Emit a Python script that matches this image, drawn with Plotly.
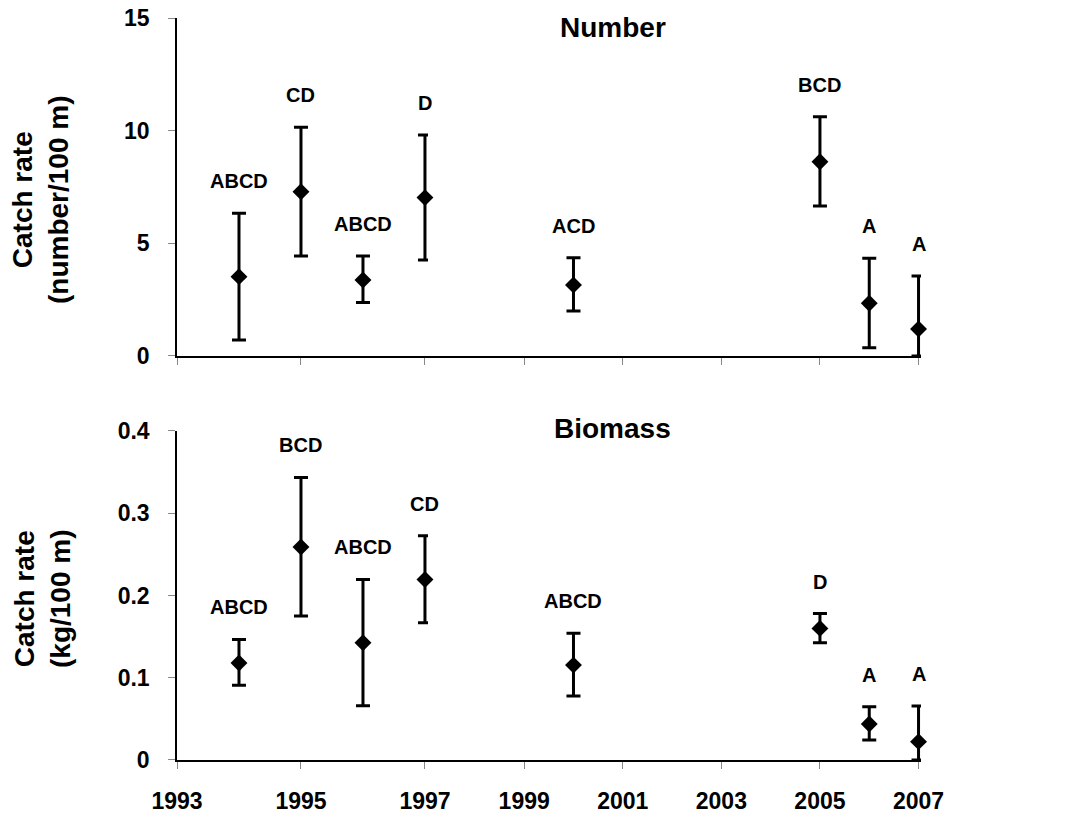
import plotly.graph_objects as go

# ---- data ----
years = [1994, 1995, 1996, 1997, 2000, 2005, 2006, 2007]

num_mean = [3.52, 7.29, 3.37, 7.03, 3.15, 8.62, 2.34, 1.20]
num_plus = [2.81, 2.86, 1.07, 2.78, 1.21, 2.00, 2.00, 2.35]
num_minus = [2.81, 2.85, 1.00, 2.77, 1.15, 1.96, 1.97, 1.20]
num_letters = ["ABCD", "CD", "ABCD", "D", "ACD", "BCD", "A", "A"]

bio_mean = [0.118, 0.259, 0.1425, 0.2195, 0.1154, 0.160, 0.0437, 0.0223]
bio_plus = [0.0286, 0.0845, 0.077, 0.053, 0.0386, 0.018, 0.0211, 0.0433]
bio_minus = [0.027, 0.084, 0.0765, 0.0527, 0.0376, 0.0175, 0.0194, 0.0223]
bio_letters = ["ABCD", "BCD", "ABCD", "CD", "ABCD", "D", "A", "A"]

left_ticks = [1993, 1995, 1997]
right_ticks = [1999, 2001, 2003, 2005, 2007]
break_year = 1997

FONT = "Arial, Liberation Sans, sans-serif"

# axis geometry: early years are drawn wider than later years (as in the source)
EPS = 0.05                      # tiny pad so edge error bars are not clipped
PX_LEFT, PX_RIGHT = 62.0, 49.3  # px per year in each segment
left_w = (break_year + EPS - 1993) * PX_LEFT
right_w = 10 * PX_RIGHT
plot_w = left_w + right_w
split = left_w / plot_w
ML = 177
MR = 1082 - ML - plot_w

fig = go.Figure()

def add_panel(mean, plus, minus, letters, xa_left, xa_right, ya):
    for side, xa in (("L", xa_left), ("R", xa_right)):
        idx = [i for i, yv in enumerate(years) if (yv <= break_year) == (side == "L")]
        fig.add_trace(go.Scatter(
            x=[years[i] for i in idx], y=[mean[i] for i in idx],
            xaxis=xa, yaxis=ya, mode="markers", cliponaxis=False,
            marker=dict(symbol="diamond", size=13, color="black"),
            error_y=dict(type="data", symmetric=False,
                         array=[plus[i] for i in idx],
                         arrayminus=[minus[i] for i in idx],
                         color="black", thickness=3, width=7),
            showlegend=False, hoverinfo="skip"))
        for i in idx:
            fig.add_annotation(
                x=years[i], y=mean[i] + plus[i], xref=xa, yref=ya,
                text=letters[i], showarrow=False, yshift=32,
                xanchor="center", yanchor="middle",
                font=dict(family=FONT, size=20, color="black", weight="bold"))

add_panel(num_mean, num_plus, num_minus, num_letters, "x", "x2", "y")
add_panel(bio_mean, bio_plus, bio_minus, bio_letters, "x3", "x4", "y2")

top_dom = [0.5445, 1.0]
bot_dom = [0.0, 0.4434]

xcommon = dict(showline=True, linecolor="black", linewidth=1.5, showgrid=False,
               zeroline=False, ticks="outside", ticklen=7, tickcolor="#888888",
               tickwidth=1, tickfont=dict(family=FONT, size=23, color="black", weight="bold"),
               ticklabelstandoff=13, fixedrange=True, automargin=False)
ycommon = dict(showline=True, linecolor="black", linewidth=1.5, showgrid=False,
               zeroline=False, ticks="outside", ticklen=7, tickcolor="#888888",
               tickfont=dict(family=FONT, size=23, color="black", weight="bold"),
               ticklabelstandoff=14, fixedrange=True, automargin=False)

left_range = [1993, break_year + EPS]
right_range = [break_year + EPS, 2007 + EPS]

fig.update_layout(
    xaxis=dict(domain=[0, split], range=left_range, anchor="y",
               tickvals=left_ticks, showticklabels=False, **xcommon),
    xaxis2=dict(domain=[split, 1], range=right_range, anchor="y",
                tickvals=right_ticks, showticklabels=False, **xcommon),
    xaxis3=dict(domain=[0, split], range=left_range, anchor="y2",
                tickvals=left_ticks, ticktext=[str(t) for t in left_ticks], **xcommon),
    xaxis4=dict(domain=[split, 1], range=right_range, anchor="y2",
                tickvals=right_ticks, ticktext=[str(t) for t in right_ticks], **xcommon),
    yaxis=dict(domain=top_dom, range=[0, 15], dtick=5, anchor="x", **ycommon),
    yaxis2=dict(domain=bot_dom, range=[0, 0.4], dtick=0.1, anchor="x3", **ycommon),
    width=1082, height=817,
    margin=dict(l=ML, r=MR, t=18, b=57, autoexpand=False),
    plot_bgcolor="white", paper_bgcolor="white",
)

def px_to_paper_x(px):
    return (px - ML) / plot_w

def py_to_paper_y(py):
    return (760 - py) / 742.0

# panel titles
fig.add_annotation(x=px_to_paper_x(613), y=py_to_paper_y(27), xref="paper", yref="paper",
                   text="Number", showarrow=False, xanchor="center", yanchor="middle",
                   font=dict(family=FONT, size=28, color="black", weight="bold"))
fig.add_annotation(x=px_to_paper_x(613), y=py_to_paper_y(428), xref="paper", yref="paper",
                   text="Biomass", showarrow=False, xanchor="center", yanchor="middle",
                   font=dict(family=FONT, size=28, color="black", weight="bold"))

# y axis titles
fig.add_annotation(x=px_to_paper_x(41), y=py_to_paper_y(200), xref="paper", yref="paper",
                   text="Catch rate<br>(number/100 m)", textangle=-90,
                   showarrow=False, xanchor="center", yanchor="middle",
                   font=dict(family=FONT, size=28, color="black", weight="bold"))
fig.add_annotation(x=px_to_paper_x(42), y=py_to_paper_y(599), xref="paper", yref="paper",
                   text="Catch rate<br>(kg/100 m)", textangle=-90,
                   showarrow=False, xanchor="center", yanchor="middle",
                   font=dict(family=FONT, size=28, color="black", weight="bold"))

fig.write_html("out.html")
